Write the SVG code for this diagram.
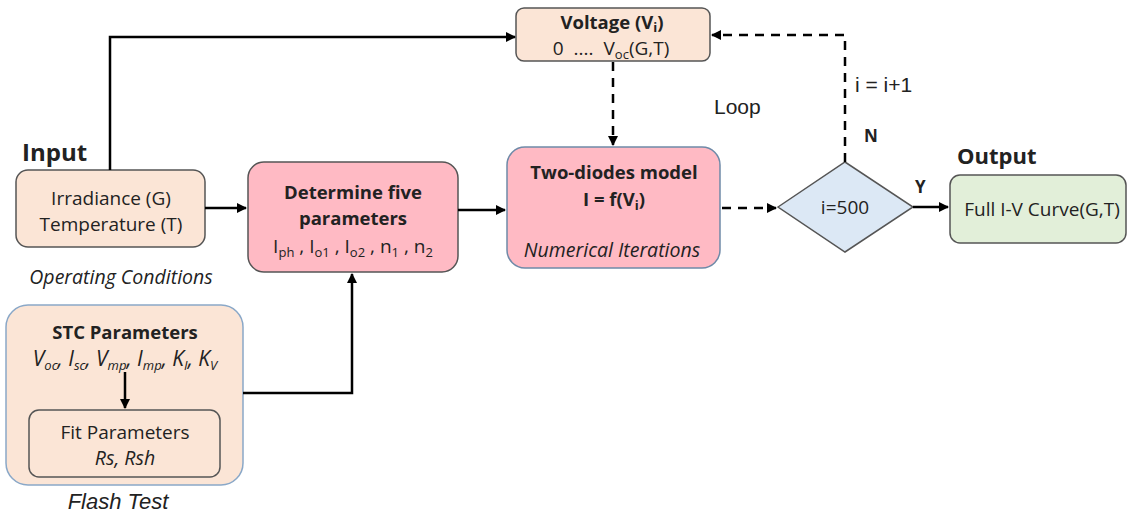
<svg xmlns="http://www.w3.org/2000/svg" width="1130" height="518" viewBox="0 0 1130 518">
<defs>
<marker id="ah" viewBox="0 0 10 10" refX="9" refY="5" markerWidth="10" markerHeight="10" markerUnits="userSpaceOnUse" orient="auto"><path d="M0,0 L10,5 L0,10 z" fill="#000"/></marker>
<style>
.t{font-family:"Open Sans","Noto Sans",sans-serif;fill:#222;font-size:19px}
.b{font-weight:bold;font-size:18.5px}
.i{font-style:italic;font-size:19.5px}
.a{font-family:"Liberation Sans",Arial,sans-serif;fill:#222;font-size:21px}
.s{font-size:13px}
.c{stroke:#000;stroke-width:2.5;fill:none}
.d{stroke:#000;stroke-width:2.5;fill:none;stroke-dasharray:9,7}
.peach{fill:#fbe5d6;stroke:#555;stroke-width:1.5}
.pink{fill:#ffbac4;stroke:#555;stroke-width:1.5}
</style>
</defs>
<rect width="1130" height="518" fill="#fff"/>
<g id="labels">
<text class="t b" x="22" y="161" style="font-size:24px">Input</text>
<text class="t b" x="957" y="164" style="font-size:22px">Output</text>
<text class="a" x="714" y="114">Loop</text>
<text class="a" x="855" y="92">i = i+1</text>
<text class="t b" x="864" y="142" style="font-size:17px">N</text>
<text class="t b" x="915" y="193" style="font-size:17px">Y</text>
<text class="t i" x="121" y="284" text-anchor="middle">Operating Conditions</text>
<text class="a i" x="118" y="509" text-anchor="middle" style="font-size:22px">Flash Test</text>
</g>
<g id="voltage">
<rect class="peach" x="516" y="8" width="194" height="53" rx="8"/>
<text class="t b" x="612" y="29" text-anchor="middle">Voltage (V<tspan class="s" dy="3">i</tspan><tspan dy="-3">)</tspan></text>
<text class="t" x="611" y="55" text-anchor="middle">0<tspan dx="10">....</tspan><tspan dx="10">V</tspan><tspan class="s" dy="4">oc</tspan><tspan dy="-4">(G,T)</tspan></text>
</g>
<g id="input">
<rect class="peach" x="16" y="170" width="189" height="77" rx="12"/>
<text class="t" x="111" y="205" text-anchor="middle">Irradiance (G)</text>
<text class="t" x="111" y="231" text-anchor="middle">Temperature (T)</text>
</g>
<g id="stc">
<rect x="6" y="305" width="237" height="180" rx="22" fill="#fbe5d6" stroke="#8aa8c8" stroke-width="1.5"/>
<text class="t b" x="125" y="339" text-anchor="middle">STC Parameters</text>
<text class="t i" x="125" y="366" text-anchor="middle" style="font-size:21px">V<tspan class="s" dy="4">oc</tspan><tspan dy="-4">, I</tspan><tspan class="s" dy="4">sc</tspan><tspan dy="-4">, V</tspan><tspan class="s" dy="4">mp</tspan><tspan dy="-4">, I</tspan><tspan class="s" dy="4">mp</tspan><tspan dy="-4">, K</tspan><tspan class="s" dy="4">I</tspan><tspan dy="-4">, K</tspan><tspan class="s" dy="4">V</tspan></text>
</g>
<g id="fit">
<rect x="29" y="410" width="191" height="67" rx="10" fill="#fbe5d6" stroke="#555" stroke-width="1.5"/>
<text class="t" x="125" y="439" text-anchor="middle">Fit Parameters</text>
<text class="t i" x="125" y="465" text-anchor="middle">Rs, Rsh</text>
</g>
<g id="determine">
<rect class="pink" x="248" y="162" width="210" height="110" rx="16"/>
<text class="t b" x="353" y="199" text-anchor="middle">Determine five</text>
<text class="t b" x="353" y="225" text-anchor="middle">parameters</text>
<text class="t" x="353" y="253" text-anchor="middle">I<tspan class="s" dy="4">ph</tspan><tspan dy="-4"> , I</tspan><tspan class="s" dy="4">o1</tspan><tspan dy="-4"> , I</tspan><tspan class="s" dy="4">o2</tspan><tspan dy="-4"> , n</tspan><tspan class="s" dy="4">1</tspan><tspan dy="-4"> , n</tspan><tspan class="s" dy="4">2</tspan></text>
</g>
<g id="twodiodes">
<rect x="507" y="147" width="213" height="121" rx="18" fill="#ffbac4" stroke="#6f8aa8" stroke-width="1.5"/>
<text class="t b" x="614" y="179" text-anchor="middle">Two-diodes model</text>
<text class="t b" x="614" y="206" text-anchor="middle">I = f(V<tspan class="s" dy="4">i</tspan><tspan dy="-4">)</tspan></text>
<text class="t i" x="612" y="257" text-anchor="middle">Numerical Iterations</text>
</g>
<g id="decision">
<polygon points="778,207 845,162 913,207 845,252" fill="#dce8f5" stroke="#555" stroke-width="1.5"/>
<text class="t" x="845" y="214" text-anchor="middle">i=500</text>
</g>
<g id="output">
<rect x="950" y="175" width="176" height="68" rx="10" fill="#e2efd9" stroke="#555" stroke-width="1.5"/>
<text class="t" x="1042" y="216" text-anchor="middle">Full I-V Curve(G,T)</text>
</g>
<g id="connectors">
<path class="c" d="M110,170 V37 H515" marker-end="url(#ah)"/>
<path class="c" d="M205,208 H246" marker-end="url(#ah)"/>
<path class="c" d="M458,210 H505" marker-end="url(#ah)"/>
<path class="c" d="M243,393 H352 V274" marker-end="url(#ah)"/>
<path class="c" d="M125,372 V408" marker-end="url(#ah)"/>
<path class="d" d="M613,62 V145" marker-end="url(#ah)"/>
<path class="d" d="M722,208 H776" marker-end="url(#ah)"/>
<path class="d" d="M845,162 V35 H712" marker-end="url(#ah)"/>
<path class="c" d="M913,207 H948" marker-end="url(#ah)"/>
</g>
</svg>
